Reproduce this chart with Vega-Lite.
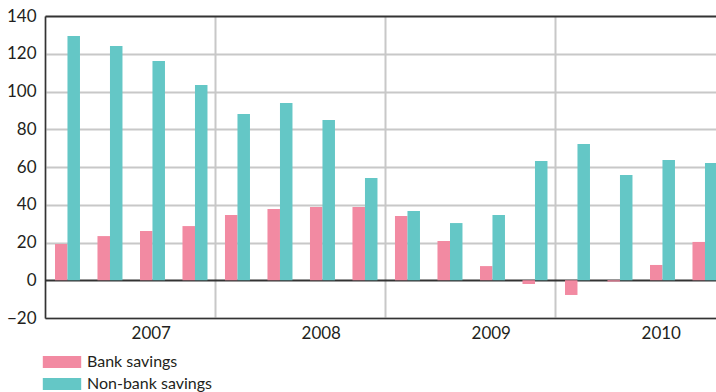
{
  "$schema": "https://vega.github.io/schema/vega-lite/v6.json",
  "width": 671,
  "height": 302,
  "autosize": "none",
  "padding": {"left": 45, "top": 16, "right": 0, "bottom": 74},
  "config": {
    "font": "Lato",
    "view": {"stroke": null}
  },
  "data": {
    "values": [
      {"quarter": "2007 Q1", "series": "Bank savings", "value": 19.2},
      {"quarter": "2007 Q1", "series": "Non-bank savings", "value": 129.4},
      {"quarter": "2007 Q2", "series": "Bank savings", "value": 23.4},
      {"quarter": "2007 Q2", "series": "Non-bank savings", "value": 124.1},
      {"quarter": "2007 Q3", "series": "Bank savings", "value": 26.1},
      {"quarter": "2007 Q3", "series": "Non-bank savings", "value": 116.2},
      {"quarter": "2007 Q4", "series": "Bank savings", "value": 28.7},
      {"quarter": "2007 Q4", "series": "Non-bank savings", "value": 103.4},
      {"quarter": "2008 Q1", "series": "Bank savings", "value": 34.6},
      {"quarter": "2008 Q1", "series": "Non-bank savings", "value": 88.1},
      {"quarter": "2008 Q2", "series": "Bank savings", "value": 37.7},
      {"quarter": "2008 Q2", "series": "Non-bank savings", "value": 93.9},
      {"quarter": "2008 Q3", "series": "Bank savings", "value": 38.8},
      {"quarter": "2008 Q3", "series": "Non-bank savings", "value": 84.9},
      {"quarter": "2008 Q4", "series": "Bank savings", "value": 38.8},
      {"quarter": "2008 Q4", "series": "Non-bank savings", "value": 54.2},
      {"quarter": "2009 Q1", "series": "Bank savings", "value": 34.0},
      {"quarter": "2009 Q1", "series": "Non-bank savings", "value": 36.7},
      {"quarter": "2009 Q2", "series": "Bank savings", "value": 20.8},
      {"quarter": "2009 Q2", "series": "Non-bank savings", "value": 30.3},
      {"quarter": "2009 Q3", "series": "Bank savings", "value": 7.5},
      {"quarter": "2009 Q3", "series": "Non-bank savings", "value": 34.6},
      {"quarter": "2009 Q4", "series": "Bank savings", "value": -2.0},
      {"quarter": "2009 Q4", "series": "Non-bank savings", "value": 63.2},
      {"quarter": "2010 Q1", "series": "Bank savings", "value": -7.8},
      {"quarter": "2010 Q1", "series": "Non-bank savings", "value": 72.2},
      {"quarter": "2010 Q2", "series": "Bank savings", "value": -0.7},
      {"quarter": "2010 Q2", "series": "Non-bank savings", "value": 55.8},
      {"quarter": "2010 Q3", "series": "Bank savings", "value": 8.1},
      {"quarter": "2010 Q3", "series": "Non-bank savings", "value": 63.7},
      {"quarter": "2010 Q4", "series": "Bank savings", "value": 20.3},
      {"quarter": "2010 Q4", "series": "Non-bank savings", "value": 62.1}
    ]
  },
  "mark": {"type": "bar", "clip": true},
  "encoding": {
    "x": {
      "field": "quarter",
      "type": "nominal",
      "sort": null,
      "scale": {"range": [0, 680], "paddingInner": 0, "paddingOuter": 0},
      "axis": {
        "values": ["2007 Q1", "2008 Q1", "2009 Q1", "2010 Q1"],
        "bandPosition": 0,
        "labelExpr": "slice(datum.value, 0, 4)",
        "labelOffset": 85,
        "labelAngle": 0,
        "labelPadding": 7,
        "labelFont": "Lato",
        "labelFontSize": 17,
        "labelColor": "#231f20",
        "title": null,
        "ticks": false,
        "grid": true,
        "gridColor": "#c8c8c8",
        "gridWidth": 2,
        "domainColor": "#333333",
        "domainWidth": 1.5
      }
    },
    "xOffset": {
      "field": "series",
      "type": "nominal",
      "sort": ["Bank savings", "Non-bank savings"],
      "scale": {"paddingInner": 0, "paddingOuter": 0.7, "align": 0.57}
    },
    "y": {
      "field": "value",
      "type": "quantitative",
      "scale": {"domain": [-20, 140], "nice": false},
      "axis": {
        "values": [-20, 0, 20, 40, 60, 80, 100, 120, 140],
        "title": null,
        "ticks": false,
        "labelPadding": 9,
        "labelOverlap": false,
        "labelFont": "Lato",
        "labelFontSize": 17,
        "labelColor": "#231f20",
        "grid": true,
        "gridColor": {"condition": {"test": "datum.value === 0 || datum.value === 140", "value": "#333333"}, "value": "#c8c8c8"},
        "gridOpacity": 1,
        "gridWidth": 2,
        "domainColor": "#333333",
        "domainWidth": 1.5
      }
    },
    "color": {
      "field": "series",
      "type": "nominal",
      "scale": {"domain": ["Bank savings", "Non-bank savings"], "range": ["#f28aa2", "#64c7c6"]},
      "legend": {
        "orient": "none",
        "legendX": 9,
        "legendY": 338,
        "direction": "vertical",
        "title": null,
        "symbolType": "M-3.2,-1H3.2V1H-3.2Z",
        "symbolSize": 144,
        "symbolStrokeWidth": 0,
        "labelFontSize": 16,
        "labelFont": "Lato",
        "labelColor": "#231f20",
        "labelOffset": 17,
        "rowPadding": 6,
        "padding": 0
      }
    }
  }
}
